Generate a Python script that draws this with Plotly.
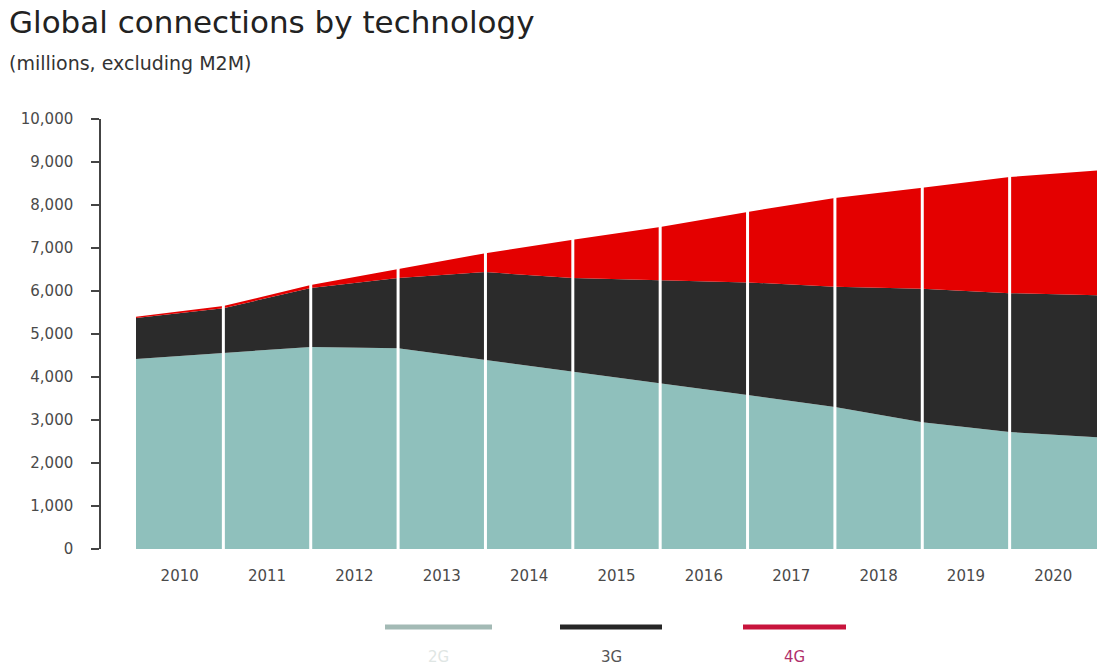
import plotly.graph_objects as go

# Boundary points: start of each year 2010..2020 plus end of 2020 (= 2021)
edges = [2010, 2011, 2012, 2013, 2014, 2015, 2016, 2017, 2018, 2019, 2020, 2021]
years = [2010, 2011, 2012, 2013, 2014, 2015, 2016, 2017, 2018, 2019, 2020]
g2 = [4420, 4560, 4700, 4670, 4400, 4120, 3860, 3580, 3300, 2950, 2720, 2600]
g3 = [950, 1040, 1370, 1630, 2040, 2180, 2390, 2620, 2800, 3100, 3230, 3300]
g4 = [30, 50, 70, 210, 440, 890, 1240, 1640, 2060, 2350, 2700, 2900]
y_ticks = [0, 1000, 2000, 3000, 4000, 5000, 6000, 7000, 8000, 9000, 10000]

series = [("2G", g2, "#8fc0bc"), ("3G", g3, "#2b2b2b"), ("4G", g4, "#e40000")]

W, H = 1097, 666
L, R, T, B = 100, 0, 119, 117
pw, ph = W - L - R, H - T - B

def px(x):
    return (x - L) / pw

def py(y):
    return (H - B - y) / ph

fig = go.Figure()
for name, vals, col in series:
    fig.add_trace(go.Scatter(
        x=edges, y=vals, name=name, stackgroup="one", mode="lines",
        line=dict(width=0, color=col), fillcolor=col, showlegend=False,
        hoverinfo="x+y+name"))

# white separators between year bands
for yr in years[1:]:
    fig.add_shape(type="line", xref="x", yref="y", x0=yr, x1=yr, y0=0, y1=10000,
                  line=dict(color="white", width=3), layer="above")

font_family = "DejaVu Sans, Open Sans, sans-serif"

fig.update_layout(
    width=W, height=H,
    margin=dict(l=L, r=R, t=T, b=B),
    paper_bgcolor="white", plot_bgcolor="white",
    font=dict(family=font_family, color="#444"),
    xaxis=dict(
        domain=[px(136), 1], range=[edges[0], edges[-1]],
        tickvals=[y + 0.5 for y in years], ticktext=[str(y) for y in years],
        ticks="", showgrid=False, zeroline=False, showline=False,
        tickfont=dict(size=15, color="#4a4a4a"), ticklabelstandoff=16),
    yaxis=dict(
        range=[0, 10000], anchor="free", position=0,
        tickvals=y_ticks, ticktext=[f"{v:,}" for v in y_ticks],
        ticks="outside", ticklen=8, tickwidth=1.5, tickcolor="#444",
        showline=True, linecolor="#444", linewidth=1.5,
        showgrid=False, zeroline=False,
        tickfont=dict(size=15, color="#4a4a4a"), ticklabelstandoff=15),
)

fig.add_annotation(text="Global connections by technology", xref="paper", yref="paper",
                   x=px(7), y=py(22), xanchor="left", yanchor="middle", showarrow=False,
                   font=dict(size=31, color="#222", family=font_family))
fig.add_annotation(text="(millions, excluding M2M)", xref="paper", yref="paper",
                   x=px(7), y=py(63), xanchor="left", yanchor="middle", showarrow=False,
                   font=dict(size=19, color="#333", family=font_family))

# custom legend: line swatch above label
legend_items = [("2G", 385, 492, "#a3bab5", "#dfe6e4"),
                ("3G", 560, 662, "#262626", "#555555"),
                ("4G", 743, 846, "#c8143c", "#b0306a")]
for name, x0, x1, lc, tc in legend_items:
    fig.add_shape(type="line", xref="paper", yref="paper",
                  x0=px(x0), x1=px(x1), y0=py(627), y1=py(627),
                  line=dict(color=lc, width=5))
    fig.add_annotation(text=name, xref="paper", yref="paper",
                       x=px((x0 + x1) / 2), y=py(657), xanchor="center", yanchor="middle",
                       showarrow=False, font=dict(size=15, color=tc, family=font_family))

fig.write_html("out.html")
